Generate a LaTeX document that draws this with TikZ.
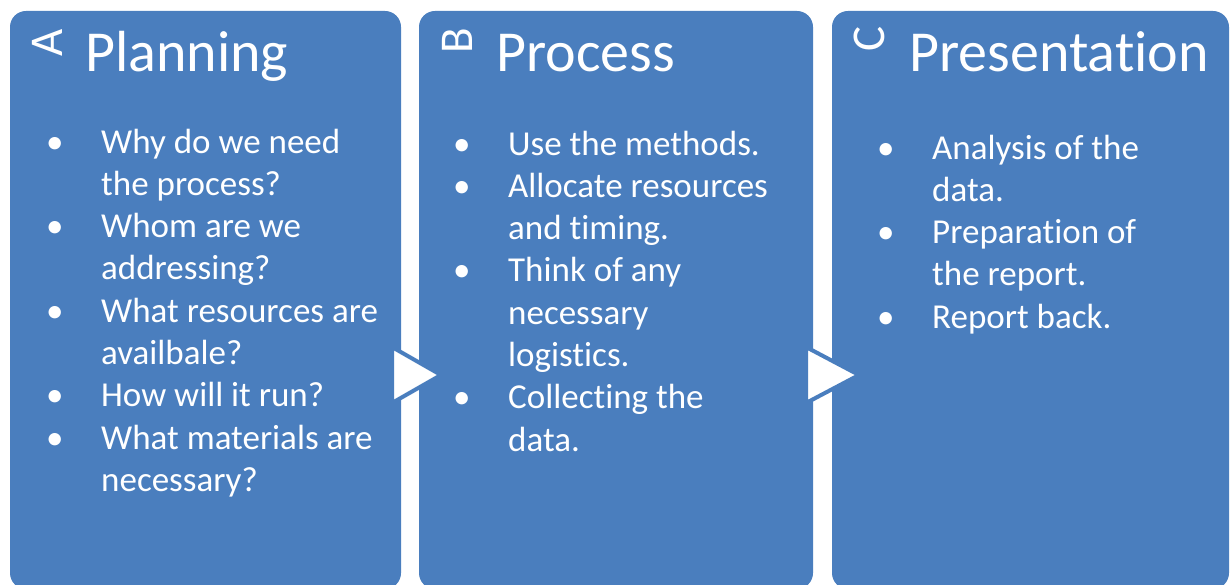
\documentclass[tikz,border=0pt]{standalone}
\usepackage{fontspec}
\setmainfont{Carlito}[Ligatures=NoCommon]
\usetikzlibrary{positioning}

\definecolor{boxblue}{HTML}{4A7EBE}
\newcommand{\bul}{\makebox[55pt][l]{\textbullet}}
\newcommand{\ind}{\hspace*{55pt}}

\begin{document}
\begin{tikzpicture}[x=1pt,y=-1pt,
      stage/.style={fill=boxblue,rounded corners=16pt},
      stagearrow/.style={fill=white,draw=boxblue,line width=4pt,line join=miter},
      letter/.style={text=white,rotate=90,inner sep=0pt,font=\fontsize{47}{47}\selectfont},
      title/.style={text=white,anchor=base west,inner sep=0pt,font=\fontsize{58}{58}\selectfont},
      items/.style={text=white,anchor=base west,inner sep=0pt,align=left,
        font=\fontsize{35}{42.3}\selectfont},
    ]
    \useasboundingbox (0,0) rectangle (1231,585);
    \begin{scope}
        \clip (0,0) rectangle (1231,585);
        % the three stages
        \fill[stage] (10,11) rectangle (401,589);
        \fill[stage] (419,11) rectangle (813,589);
        \fill[stage] (832,11) rectangle (1229,589);
    \end{scope}

    % arrows between stages
    \coordinate (a1) at (392,347);
    \coordinate (a2) at (441,375);
    \coordinate (a3) at (392,403);
    \draw[stagearrow] (a1) -- (a2) -- (a3) -- cycle;
    \coordinate (b1) at (806,347);
    \coordinate (b2) at (859,375);
    \coordinate (b3) at (806,403);
    \draw[stagearrow] (b1) -- (b2) -- (b3) -- cycle;

    % headings
    \node[letter] (lA) at (47,43) {A};
    \node[title] (tA) at (85,72) {Planning};
    \node[letter] (lB) at (457,41) {B};
    \node[title] (tB) at (496,72) {Process};
    \node[letter] (lC) at (869,39) {C};
    \node[title] (tC) at (909,72) {Presentation};

    % lists (placed by the baseline of their last line)
    \node[items] (iA) at (46,491.4) {%
        \bul Why do we need\\
        \ind the process?\\
        \bul Whom are we\\
        \ind addressing?\\
        \bul What resources are\\
        \ind availbale?\\
        \bul How will it run?\\
        \bul What materials are\\
        \ind necessary?};
    \node[items] (iB) at (453,451.1) {%
        \bul Use the methods.\\
        \bul Allocate resources\\
        \ind and timing.\\
        \bul Think of any\\
        \ind necessary\\
        \ind logistics.\\
        \bul Collecting the\\
        \ind data.};
    \node[items] (iC) at (877,328.2) {%
        \bul Analysis of the\\
        \ind data.\\
        \bul Preparation of\\
        \ind the report.\\
        \bul Report back.};
\end{tikzpicture}
\end{document}
